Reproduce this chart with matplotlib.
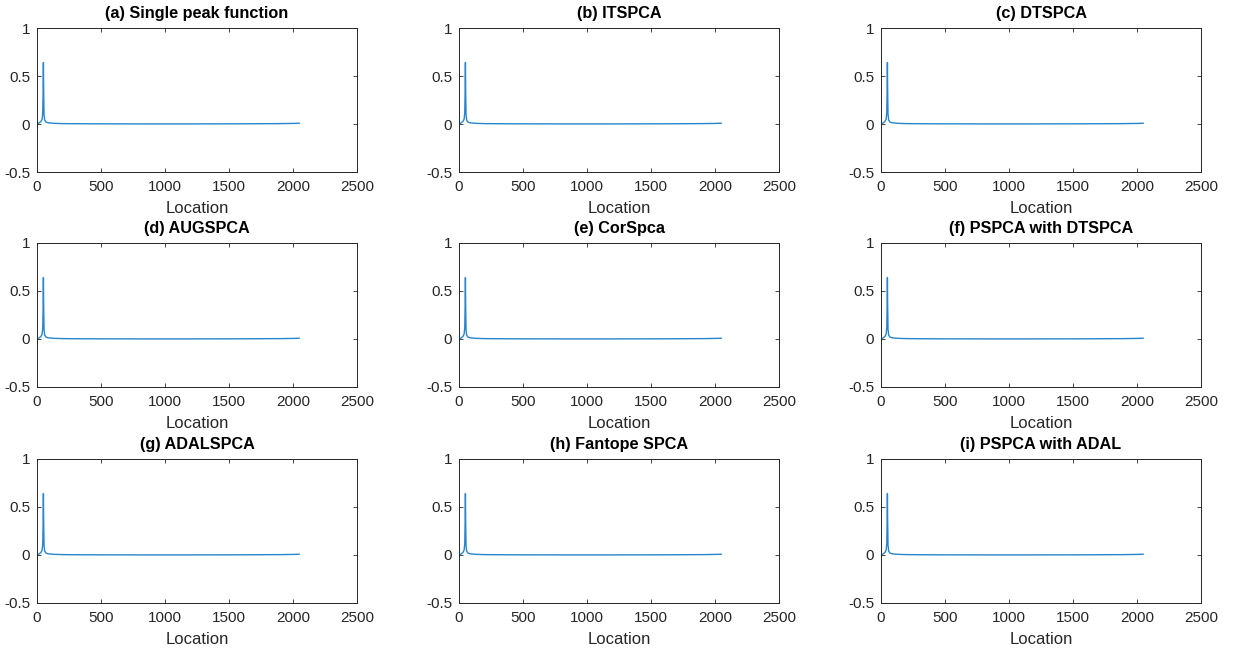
import numpy as np
import matplotlib
matplotlib.use("Agg")
import matplotlib.pyplot as plt

plt.rcParams['font.family'] = ['Liberation Sans', 'DejaVu Sans']

titles = ["(a) Single peak function", "(b) ITSPCA", "(c) DTSPCA",
          "(d) AUGSPCA", "(e) CorSpca", "(f) PSPCA with DTSPCA",
          "(g) ADALSPCA", "(h) Fantope SPCA", "(i) PSPCA with ADAL"]

# points (same shape in every panel)
loc = [1, 15, 30, 40, 45, 48, 50, 52, 55, 60, 70, 90, 130, 200, 400,
       800, 1200, 1600, 1900, 2000, 2048]
amp = [0.0, 0.01, 0.025, 0.05, 0.12, 0.35, 0.64, 0.35, 0.1, 0.04, 0.02,
       0.012, 0.007, 0.004, 0.002, 0.001, 0.001, 0.002, 0.004, 0.006, 0.008]

xticks = [0, 500, 1000, 1500, 2000, 2500]
yticks = [-0.5, 0, 0.5, 1]
ytick_labels = ["-0.5", "0", "0.5", "1"]

fig = plt.figure(figsize=(12.33, 6.53), dpi=100)

lefts = [37 / 1233, 459 / 1233, 881 / 1233]
bottoms = [1 - 172 / 653, 1 - 387 / 653, 1 - 603 / 653]
w = 320 / 1233
h = 144 / 653

dark = (0.15, 0.15, 0.15)
for i, t in enumerate(titles):
    ax = fig.add_axes([lefts[i % 3], bottoms[i // 3], w, h])
    ax.plot(loc, amp, color=(0.15, 0.52, 0.8), lw=1.0)
    ax.set_xlim(0, 2500)
    ax.set_ylim(-0.5, 1)
    ax.set_xticks(xticks)
    ax.set_yticks(yticks)
    ax.set_yticklabels(ytick_labels)
    ax.tick_params(direction='in', top=True, right=True, length=3,
                   width=0.6, colors=dark, labelsize=11)
    ax.tick_params(axis='x', pad=6)
    ax.tick_params(axis='y', pad=5)
    for s in ax.spines.values():
        s.set_color(dark)
        s.set_linewidth(0.7)
    ax.set_xlabel("Location", fontsize=12, color=dark, labelpad=5)
    ax.set_title(t, fontsize=11.7, fontweight='bold', pad=7)

fig.savefig("out.png", dpi=100)
